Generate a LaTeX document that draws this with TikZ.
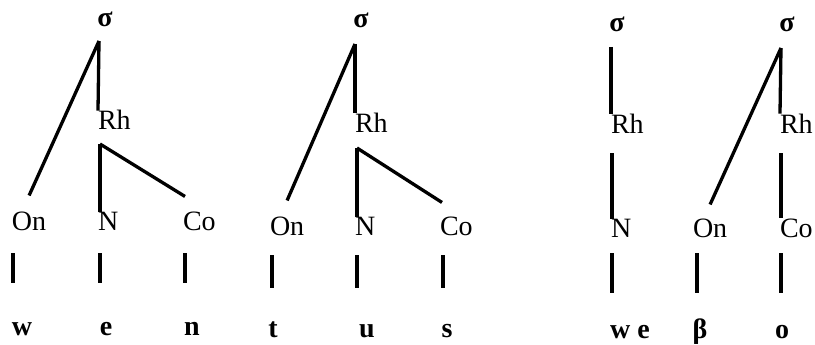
\documentclass[tikz,border=0pt]{standalone}
\usepackage{fontspec}
\setmainfont{Liberation Serif}
\begin{document}
\begin{tikzpicture}[x=1pt,y=-1pt,
  lab/.style={inner sep=0pt,outer sep=0pt,font=\fontsize{28}{32}\selectfont},
  blab/.style={lab,font=\fontsize{28}{32}\selectfont\bfseries},
  branch/.style={line width=3.3pt},
  bar/.style={line width=3.3pt}]
\useasboundingbox (0,0) rectangle (815,345);
% ---------- tree 1 ----------
\node[blab,anchor=base] (s1) at (105,27) {σ};
\node[lab,anchor=base west] (rh1) at (98,130) {Rh};
\node[lab,anchor=base west] (on1) at (12,230) {On};
\node[lab,anchor=base west] (nu1) at (98,230) {N};
\node[lab,anchor=base west] (co1) at (183,230) {Co};
\node[blab,anchor=base] (w1) at (22,335) {w};
\node[blab,anchor=base] (e1) at (106,335) {e};
\node[blab,anchor=base] (n1) at (192,335) {n};
\draw[branch] ([xshift=-6pt,yshift=-14pt]s1.base) -- (rh1.north west);
\draw[branch] ([xshift=-6pt,yshift=-14pt]s1.base) -- ([yshift=16pt]on1.north);
\draw[branch] ([xshift=2pt,yshift=-14pt]rh1.base west) -- ([xshift=2pt]nu1.north west);
\draw[branch] ([xshift=2pt,yshift=-14pt]rh1.base west) -- ([xshift=2pt,yshift=15pt]co1.north west);
\draw[bar] ([xshift=1pt,yshift=-23pt]on1.base west) -- ++(0,30);
\draw[bar] ([xshift=2pt,yshift=-23pt]nu1.base west) -- ++(0,30);
\draw[bar] ([xshift=2pt,yshift=-23pt]co1.base west) -- ++(0,30);
% ---------- tree 2 ----------
\node[blab,anchor=base] (s2) at (361,28) {σ};
\node[lab,anchor=base west] (rh2) at (355,132) {Rh};
\node[lab,anchor=base west] (on2) at (270,235) {On};
\node[lab,anchor=base west] (nu2) at (355,235) {N};
\node[lab,anchor=base west] (co2) at (440,235) {Co};
\node[blab,anchor=base] (t2) at (273,337) {t};
\node[blab,anchor=base] (u2) at (367,337) {u};
\node[blab,anchor=base] (ss2) at (447,337) {s};
\draw[branch] ([xshift=-6pt,yshift=-16pt]s2.base) -- (rh2.north west);
\draw[branch] ([xshift=-6pt,yshift=-16pt]s2.base) -- ([yshift=16pt]on2.north);
\draw[branch] ([xshift=2pt,yshift=-16pt]rh2.base west) -- ([xshift=2pt]nu2.north west);
\draw[branch] ([xshift=2pt,yshift=-16pt]rh2.base west) -- ([xshift=2pt,yshift=14pt]co2.north west);
\draw[bar] ([xshift=2pt,yshift=-20pt]on2.base west) -- ++(0,33);
\draw[bar] ([xshift=2pt,yshift=-20pt]nu2.base west) -- ++(0,33);
\draw[bar] ([xshift=3pt,yshift=-20pt]co2.base west) -- ++(0,33);
% ---------- tree 3 ----------
\node[blab,anchor=base] (s3) at (617,32) {σ};
\node[lab,anchor=base west] (rh3) at (611,133) {Rh};
\node[lab,anchor=base west] (nu3) at (611,237) {N};
\node[blab,anchor=base] (we3) at (630,338) {w e};
\draw[branch] ([xshift=-6pt,yshift=-15pt]s3.base) -- (rh3.north west);
\draw[branch] ([xshift=1pt,yshift=-20pt]rh3.base west) -- ([xshift=1pt]nu3.north west);
\draw[bar] ([xshift=1pt,yshift=-16pt]nu3.base west) -- ++(0,40);
% ---------- tree 4 ----------
\node[blab,anchor=base] (s4) at (787,32) {σ};
\node[lab,anchor=base west] (rh4) at (780,133) {Rh};
\node[lab,anchor=base west] (on4) at (693,237) {On};
\node[lab,anchor=base west] (co4) at (780,237) {Co};
\node[blab,anchor=base] (b4) at (700,338) {β};
\node[blab,anchor=base] (o4) at (782,338) {o};
\draw[branch] ([xshift=-6pt,yshift=-16pt]s4.base) -- (rh4.north west);
\draw[branch] ([xshift=-6pt,yshift=-16pt]s4.base) -- ([yshift=14pt]on4.north);
\draw[branch] ([xshift=1pt,yshift=-20pt]rh4.base west) -- ([xshift=1pt]co4.north west);
\draw[bar] ([xshift=4pt,yshift=-16pt]on4.base west) -- ++(0,40);
\draw[bar] ([xshift=1pt,yshift=-16pt]co4.base west) -- ++(0,40);
\end{tikzpicture}
\end{document}
